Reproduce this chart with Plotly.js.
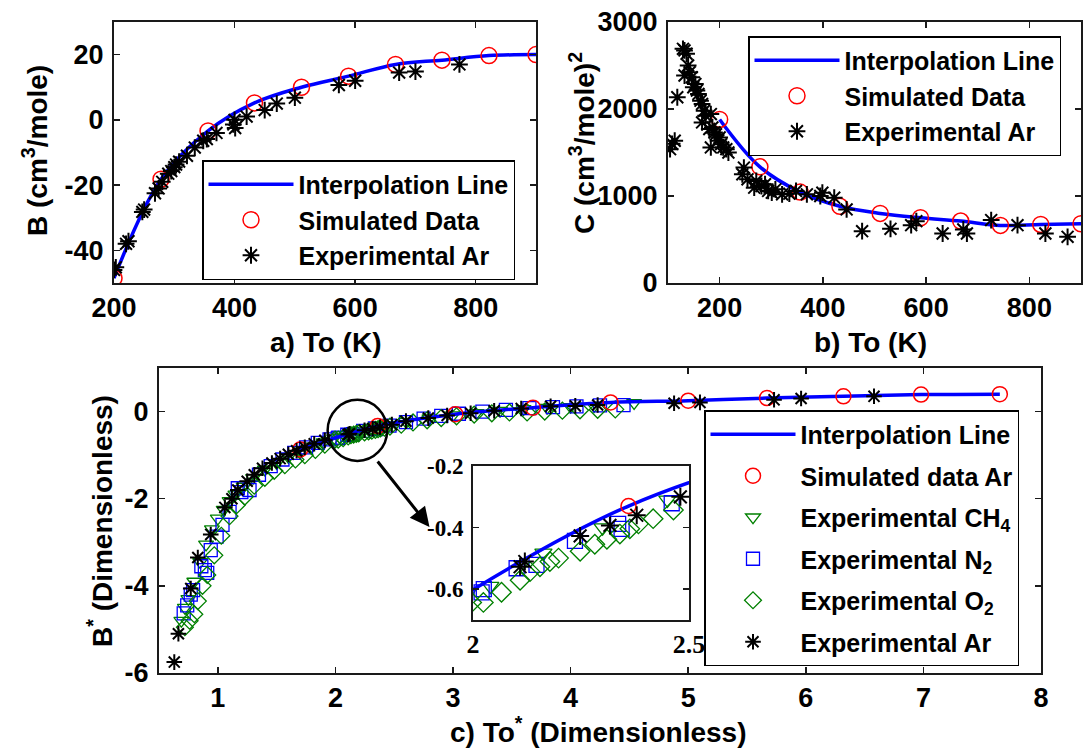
<!DOCTYPE html>
<html><head><meta charset="utf-8">
<script src="https://cdn.plot.ly/plotly-3.0.1.min.js"></script>
<style>body{margin:0;background:#fff}#chart{width:1084px;height:749px}</style>
</head><body><div id="chart"></div>
<script>
// ---------- Panel a: second virial coefficient B vs To ----------
const aSimT = [200, 278, 356, 433, 511, 589, 667, 744, 822, 900];
const aSimB = [-48.5, -18.2, -3.4, 5.2, 10.0, 13.4, 17.0, 18.3, 19.7, 20.0];
const aExpT = [200, 203, 220, 224, 247, 250, 268, 274, 280, 290, 295, 300, 303, 308, 321, 334, 348, 354, 370, 398, 400, 401, 420, 450, 470, 500, 573, 600, 673, 700, 773];
const aExpB = [-46.0, -45.2, -38.0, -37.2, -28.2, -27.5, -22.5, -21.0, -19.0, -16.5, -15.7, -14.5, -13.7, -12.8, -11.0, -8.5, -6.4, -5.9, -4.0, -1.4, 0.0, -2.5, 1.0, 3.0, 5.0, 6.8, 10.7, 12.0, 14.5, 14.8, 17.0];

// ---------- Panel b: third virial coefficient C vs To ----------
const bSimT = [200, 278, 356, 433, 511, 589, 667, 744, 822, 900];
const bSimC = [1880, 1335, 1045, 882, 800, 750, 712, 662, 673, 681];
const bExpT = [104, 108, 113, 118, 129, 132, 136, 132, 139, 142, 146, 149, 153, 156, 159, 163, 166, 170, 173, 166, 180, 183, 186, 190, 183, 193, 197, 200, 203, 207, 213, 217, 244, 247, 254, 267, 271, 281, 288, 294, 301, 308, 321, 335, 348, 369, 395, 399, 422, 446, 476, 531, 571, 581, 632, 672, 679, 726, 777, 831, 874];
const bExpC = [1538, 1600, 1635, 2135, 2692, 2673, 2635, 2385, 2500, 2423, 2365, 2250, 2288, 2212, 2173, 2096, 2058, 1980, 1923, 1846, 1770, 1942, 1788, 1730, 1558, 1711, 1635, 1673, 1596, 1558, 1538, 1500, 1250, 1327, 1192, 1096, 1173, 1115, 1135, 1058, 1038, 1077, 1019, 1027, 1058, 1019, 1000, 1038, 981, 846, 596, 623, 665, 711, 569, 615, 569, 723, 665, 569, 531];

// ---------- Panel c: reduced B* vs To* ----------
const cSimX = [1.70, 2.36, 3.02, 3.68, 4.34, 5.00, 5.67, 6.32, 6.98, 7.65];
const cSimY = [-0.87, -0.33, -0.06, 0.09, 0.21, 0.25, 0.31, 0.35, 0.39, 0.40];
const cCH4X = [0.69, 0.72, 0.75, 0.80, 0.85, 0.90, 0.95, 1.00, 1.05, 1.10, 1.15, 1.22, 1.30, 1.40, 1.50, 1.60, 1.70, 1.80, 1.90, 1.989, 2.04, 2.163, 2.30, 2.45, 2.60, 2.80, 3.00, 3.20, 3.40, 3.60, 3.80, 4.00, 4.20, 4.54];
const cCH4Y = [-4.80, -4.50, -4.30, -3.90, -3.45, -3.05, -2.70, -2.45, -2.25, -2.05, -1.90, -1.72, -1.52, -1.33, -1.18, -1.04, -0.92, -0.80, -0.70, -0.61, -0.59, -0.482, -0.40, -0.31, -0.23, -0.15, -0.08, -0.03, 0.02, 0.06, 0.09, 0.11, 0.13, 0.20];
const cN2X = [0.71, 0.74, 0.77, 0.79, 0.86, 0.89, 0.91, 0.94, 0.99, 1.04, 1.10, 1.17, 1.20, 1.27, 1.35, 1.45, 1.55, 1.65, 1.75, 1.85, 1.95, 2.02, 2.025, 2.101, 2.147, 2.236, 2.336, 2.344, 2.46, 2.60, 2.75, 2.90, 3.05, 3.25, 3.45, 3.65, 3.85, 4.05, 4.25, 4.45];
const cN2Y = [-4.63, -4.45, -4.20, -4.10, -3.55, -3.64, -3.70, -3.18, -2.87, -2.60, -2.30, -1.76, -1.85, -1.80, -1.45, -1.25, -1.10, -0.95, -0.82, -0.72, -0.64, -0.61, -0.60, -0.532, -0.521, -0.443, -0.388, -0.404, -0.321, -0.24, -0.16, -0.10, -0.05, 0.00, 0.04, 0.08, 0.10, 0.12, 0.14, 0.15];
const cO2X = [0.72, 0.76, 0.80, 0.83, 0.87, 0.91, 0.97, 1.03, 1.10, 1.16, 1.23, 1.31, 1.40, 1.48, 1.57, 1.66, 1.74, 1.83, 1.91, 1.997, 2.024, 2.066, 2.109, 2.132, 2.155, 2.178, 2.198, 2.248, 2.282, 2.31, 2.34, 2.363, 2.383, 2.417, 2.464, 2.56, 2.66, 2.78, 2.90, 3.03, 3.18, 3.33, 3.48, 3.63, 3.78, 3.93, 4.08, 4.23, 4.38];
const cO2Y = [-4.95, -4.80, -4.65, -4.35, -4.00, -3.75, -3.30, -2.85, -2.40, -2.15, -1.95, -1.70, -1.52, -1.36, -1.23, -1.10, -1.00, -0.88, -0.76, -0.643, -0.643, -0.61, -0.571, -0.543, -0.527, -0.51, -0.499, -0.477, -0.454, -0.438, -0.421, -0.404, -0.388, -0.371, -0.343, -0.30, -0.25, -0.20, -0.15, -0.11, -0.07, -0.04, -0.02, -0.02, 0.00, 0.02, 0.03, 0.04, 0.05];
const cArX = [0.63, 0.665, 0.77, 0.83, 0.94, 1.06, 1.12, 1.17, 1.25, 1.31, 1.38, 1.46, 1.53, 1.60, 1.67, 1.74, 1.82, 1.91, 2.109, 2.12, 2.248, 2.317, 2.379, 2.48, 2.60, 2.79, 2.95, 3.15, 3.35, 3.58, 3.83, 4.04, 4.23, 4.88, 5.10, 5.73, 5.96, 6.58];
const cArY = [-5.75, -5.10, -4.06, -3.35, -2.82, -2.20, -2.00, -1.80, -1.60, -1.45, -1.30, -1.18, -1.08, -0.98, -0.90, -0.82, -0.74, -0.66, -0.527, -0.51, -0.427, -0.393, -0.36, -0.30, -0.22, -0.15, -0.09, -0.04, 0.02, 0.07, 0.12, 0.13, 0.15, 0.19, 0.21, 0.27, 0.30, 0.35];

// ---------- Tick values / labels ----------
const aXTicks = [200, 400, 600, 800];
const aYTicks = [-40, -20, 0, 20];
const aYLabels = ['-40', '-20', '0', '20'];
const bXTicks = [200, 400, 600, 800];
const bYTicks = [0, 1000, 2000, 3000];
const cXTicks = [1, 2, 3, 4, 5, 6, 7, 8];
const cYTicks = [-6, -4, -2, 0];
const cYLabels = ['-6', '-4', '-2', '0'];
const inXTicks = [2, 2.5];
const inXLabels = ['2', '2.5'];
const inYTicks = [-0.6, -0.4, -0.2];
const inYLabels = ['-0.6', '-0.4', '-0.2'];

// ---------- Styling ----------
const W = 1084, H = 749;
const fx = p => p / W, fy = p => 1 - p / H;
const SANS = 'Liberation Sans, Arial, Helvetica, sans-serif';
const SERIF = 'Liberation Serif, Times New Roman, serif';
const RED = '#ff0000', BLUE = '#0000ff', GREEN = '#008000', BLACK = '#000000';

function axis(domain, anchor, range, tickvals, ticktext, isX, font) {
  const a = {
    domain: domain, anchor: anchor, range: range, tickvals: tickvals,
    showline: true, linecolor: '#1a1a1a', linewidth: 2, mirror: 'ticks',
    ticks: 'inside', ticklen: 6, tickwidth: 1.5, tickcolor: '#1a1a1a',
    showgrid: false, zeroline: false, ticklabelstandoff: isX ? 0 : 3,
    tickfont: font || {family: SANS, size: 27, color: BLACK, weight: 'bold'}
  };
  if (ticktext) a.ticktext = ticktext;
  return a;
}
const circ = (s) => ({symbol: 'circle-open', size: s, color: RED, line: {width: 1.5, color: RED}});
const star = (s) => ({symbol: 'asterisk-open', size: s, color: BLACK, line: {width: 2, color: BLACK}});
const tri = (s) => ({symbol: 'triangle-down-open', size: s, color: GREEN, line: {width: 1.3, color: GREEN}});
const sq = (s) => ({symbol: 'square-open', size: s, color: BLUE, line: {width: 1.3, color: BLUE}});
const dia = (s) => ({symbol: 'diamond-open', size: s, color: GREEN, line: {width: 1.3, color: GREEN}});
const lineStyle = {color: BLUE, width: 3.5, shape: 'spline'};

const data = [
  // panel a
  {x: aSimT, y: aSimB, mode: 'lines', line: lineStyle, name: 'Interpolation Line', xaxis: 'x', yaxis: 'y', legend: 'legend'},
  {x: aSimT, y: aSimB, mode: 'markers', marker: circ(16), name: 'Simulated Data', xaxis: 'x', yaxis: 'y', legend: 'legend'},
  {x: aExpT, y: aExpB, mode: 'markers', marker: star(14), name: 'Experimental Ar', xaxis: 'x', yaxis: 'y', legend: 'legend'},
  // panel b
  {x: bSimT, y: bSimC, mode: 'lines', line: lineStyle, name: 'Interpolation Line', xaxis: 'x2', yaxis: 'y2', legend: 'legend2'},
  {x: bSimT, y: bSimC, mode: 'markers', marker: circ(16), name: 'Simulated Data', xaxis: 'x2', yaxis: 'y2', legend: 'legend2'},
  {x: bExpT, y: bExpC, mode: 'markers', marker: star(14), name: 'Experimental Ar', xaxis: 'x2', yaxis: 'y2', legend: 'legend2'},
  // panel c
  {x: cCH4X, y: cCH4Y, mode: 'markers', marker: tri(13), name: 'Experimental CH<sub>4</sub>', xaxis: 'x3', yaxis: 'y3', legend: 'legend3', legendgroup: 'g3', legendrank: 3},
  {x: cN2X, y: cN2Y, mode: 'markers', marker: sq(13), name: 'Experimental N<sub>2</sub>', xaxis: 'x3', yaxis: 'y3', legend: 'legend3', legendgroup: 'g4', legendrank: 4},
  {x: cO2X, y: cO2Y, mode: 'markers', marker: dia(13), name: 'Experimental O<sub>2</sub>', xaxis: 'x3', yaxis: 'y3', legend: 'legend3', legendgroup: 'g5', legendrank: 5},
  {x: cSimX, y: cSimY, mode: 'lines', line: lineStyle, name: 'Interpolation Line', xaxis: 'x3', yaxis: 'y3', legend: 'legend3', legendgroup: 'g1', legendrank: 1},
  {x: cSimX, y: cSimY, mode: 'markers', marker: circ(15), name: 'Simulated data Ar', xaxis: 'x3', yaxis: 'y3', legend: 'legend3', legendgroup: 'g2', legendrank: 2},
  {x: cArX, y: cArY, mode: 'markers', marker: star(13), name: 'Experimental Ar', xaxis: 'x3', yaxis: 'y3', legend: 'legend3', legendgroup: 'g6', legendrank: 6},
  // inset (zoom of panel c)
  {x: cCH4X, y: cCH4Y, mode: 'markers', marker: tri(15), xaxis: 'x4', yaxis: 'y4', showlegend: false, legendgroup: 'g3'},
  {x: cN2X, y: cN2Y, mode: 'markers', marker: sq(15), xaxis: 'x4', yaxis: 'y4', showlegend: false, legendgroup: 'g4'},
  {x: cO2X, y: cO2Y, mode: 'markers', marker: dia(15), xaxis: 'x4', yaxis: 'y4', showlegend: false, legendgroup: 'g5'},
  {x: cSimX, y: cSimY, mode: 'lines', line: lineStyle, xaxis: 'x4', yaxis: 'y4', showlegend: false, legendgroup: 'g1'},
  {x: cSimX, y: cSimY, mode: 'markers', marker: circ(15), xaxis: 'x4', yaxis: 'y4', showlegend: false, legendgroup: 'g2'},
  {x: cArX, y: cArY, mode: 'markers', marker: star(15), xaxis: 'x4', yaxis: 'y4', showlegend: false, legendgroup: 'g6'}
];

const legFont = {family: SANS, size: 25, color: BLACK, weight: 'bold'};
const legBase = {xanchor: 'left', yanchor: 'top', bgcolor: '#ffffff', bordercolor: BLACK, borderwidth: 1.5, font: legFont, itemwidth: 85};
const titleFont = {family: SANS, size: 28, color: BLACK, weight: 'bold'};
function title(text, x, y, angle) {
  return {text: text, xref: 'paper', yref: 'paper', x: fx(x), y: fy(y), xanchor: 'center', yanchor: 'middle', showarrow: false, textangle: angle || 0, font: titleFont};
}

const layout = {
  width: W, height: H, margin: {l: 0, r: 0, t: 0, b: 0},
  paper_bgcolor: '#ffffff', plot_bgcolor: '#ffffff',
  xaxis: axis([fx(114), fx(536)], 'y', [200, 900], aXTicks, null, true),
  yaxis: axis([fy(283), fy(22)], 'x', [-50, 30], aYTicks, aYLabels, false),
  xaxis2: axis([fx(668), fx(1081)], 'y2', [100, 900], bXTicks, null, true),
  yaxis2: axis([fy(283), fy(22)], 'x2', [0, 3000], bYTicks, null, false),
  xaxis3: axis([fx(159), fx(1041)], 'y3', [0.5, 8], cXTicks, null, true),
  yaxis3: axis([fy(673), fy(368)], 'x3', [-6, 1], cYTicks, cYLabels, false),
  xaxis4: axis([fx(473), fx(689)], 'y4', [2, 2.5], inXTicks, inXLabels, true, {family: SERIF, size: 26, color: BLACK, weight: 'bold'}),
  yaxis4: axis([fy(620), fy(466)], 'x4', [-0.7, -0.2], inYTicks, inYLabels, false, {family: SERIF, size: 23, color: BLACK, weight: 'bold'}),
  legend: Object.assign({}, legBase, {x: fx(202), y: fy(160)}),
  legend2: Object.assign({}, legBase, {x: fx(748), y: fy(36)}),
  legend3: Object.assign({}, legBase, {x: fx(704), y: fy(410), tracegroupgap: 6}),
  shapes: [
    {type: 'circle', xref: 'x3', yref: 'y3', x0: 1.934, x1: 2.44, y0: -1.133, y1: 0.269, line: {color: BLACK, width: 2.5}}
  ],
  annotations: [
    title('a) To (K)', 325, 343),
    title('b) To (K)', 870, 343),
    title('c) To<sup>*</sup> (Dimensionless)', 598, 730),
    title('B (cm<sup>3</sup>/mole)', 35, 151, -90),
    title('C (cm<sup>3</sup>/mole)<sup>2</sup>', 582, 143, -90),
    title('B<sup>*</sup> (Dimensionless)', 100, 521, -90),
    {xref: 'x3', yref: 'y3', x: 2.80, y: -2.65, ax: -53, ay: -67, text: '', showarrow: true, arrowhead: 2, arrowsize: 1.3, arrowwidth: 3, arrowcolor: BLACK}
  ]
};

Plotly.newPlot('chart', data, layout, {displayModeBar: false, staticPlot: true});
</script>
</body></html>
